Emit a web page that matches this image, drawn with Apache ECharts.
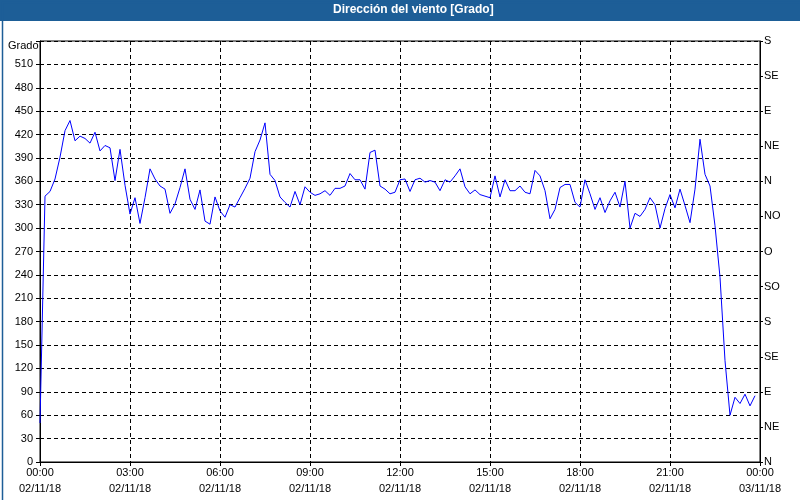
<!DOCTYPE html>
<html>
<head>
<meta charset="utf-8">
<script src="https://cdn.jsdelivr.net/npm/echarts@6/dist/echarts.min.js"></script>
<style>html,body{margin:0;padding:0;background:#fff}#c{width:800px;height:500px}</style>
</head>
<body>
<div id="c"></div>
<script>
// Wind direction every 10 minutes from 00:00 (degrees)
const windDir = [
  50,341,347,363,391,425,438,412,418,415,409,423,399,406,403,361,401,355,318,339,
  306,339,376,363,354,350,319,331,352,376,337,324,349,309,305,340,322,314,330,327,
  339,351,364,398,413,435,369,361,340,333,327,347,330,353,346,342,344,348,342,351,
  351,354,370,362,362,350,397,400,354,350,344,346,362,363,347,362,364,359,361,359,
  348,362,359,367,376,353,344,349,343,341,339,367,340,362,348,348,354,346,344,374,
  367,348,312,324,352,356,356,333,327,362,344,324,339,320,335,346,327,360,300,319,
  315,324,339,330,300,325,343,326,350,329,307,350,414,369,354,303,237,130,60,83,
  75,87,72,85
];
const stepMinutes = 10;
const xTickTimes = ['00:00','03:00','06:00','09:00','12:00','15:00','18:00','21:00','00:00'];
const xTickDates = ['02/11/18','02/11/18','02/11/18','02/11/18','02/11/18','02/11/18','02/11/18','02/11/18','03/11/18'];
const rightLabels = ['N','NE','E','SE','S','SO','O','NO','N','NE','E','SE','S'];

const seriesData = windDir.map((v, i) => [i * stepMinutes, v]);
const FONT = 'Liberation Sans';
const dash = [4, 3];

const chart = echarts.init(document.getElementById('c'), null, {renderer: 'canvas'});
chart.setOption({
  animation: false,
  backgroundColor: '#ffffff',
  grid: {left: 40, right: 40, top: 41, bottom: 38, show: true, borderColor: '#000', borderWidth: 1, backgroundColor: 'transparent'},
  graphic: [
    {type: 'rect', left: 0, top: 0, shape: {width: 800, height: 21}, style: {fill: '#1d5e97'}, z: 10},
    {type: 'rect', left: 0, top: 0, shape: {x: 0.5, y: 0.5, width: 799, height: 499}, style: {fill: 'none', stroke: '#1d5e97', lineWidth: 1.5}, z: 10},
    {type: 'text', left: 333, top: 4, style: {text: 'Dirección del viento [Grado]', fill: '#fff', font: 'bold 12px "Liberation Sans"'}, z: 11},
    {type: 'text', left: 8, top: 40, style: {text: 'Grado', fill: '#000', font: '11px "Liberation Sans"'}, z: 11}
  ],
  xAxis: {
    type: 'value', min: 0, max: 1440, interval: 180,
    axisLine: {show: true, lineStyle: {color: '#000', width: 1}},
    axisTick: {show: true, length: 4, lineStyle: {color: '#000'}},
    axisLabel: {
      color: '#000', fontFamily: FONT, fontSize: 11, margin: 3, lineHeight: 16,
      formatter: v => { const k = Math.round(v / 180); return xTickTimes[k] + '\n' + xTickDates[k]; }
    },
    splitLine: {show: true, lineStyle: {color: '#000', type: dash, width: 1}}
  },
  yAxis: [
    {
      type: 'value', min: 0, max: 540, interval: 30,
      axisLine: {show: true, lineStyle: {color: '#000', width: 1}},
      axisTick: {show: true, length: 4, lineStyle: {color: '#000'}},
      axisLabel: {color: '#000', fontFamily: FONT, fontSize: 11, margin: 7, formatter: v => v >= 540 ? '' : String(v)},
      splitLine: {show: true, lineStyle: {color: '#000', type: dash, width: 1}}
    },
    {
      type: 'value', min: 0, max: 540, interval: 45, position: 'right',
      axisLine: {show: true, lineStyle: {color: '#000', width: 1}},
      axisTick: {show: true, length: 3, lineStyle: {color: '#000'}},
      axisLabel: {color: '#000', fontFamily: FONT, fontSize: 11, margin: 4, formatter: v => rightLabels[Math.round(v / 45)]},
      splitLine: {show: false}
    }
  ],
  series: [{
    type: 'line', data: seriesData, yAxisIndex: 0,
    showSymbol: false, symbol: 'none',
    lineStyle: {color: '#0000ff', width: 1},
    z: 5
  }]
});
</script>
</body>
</html>
